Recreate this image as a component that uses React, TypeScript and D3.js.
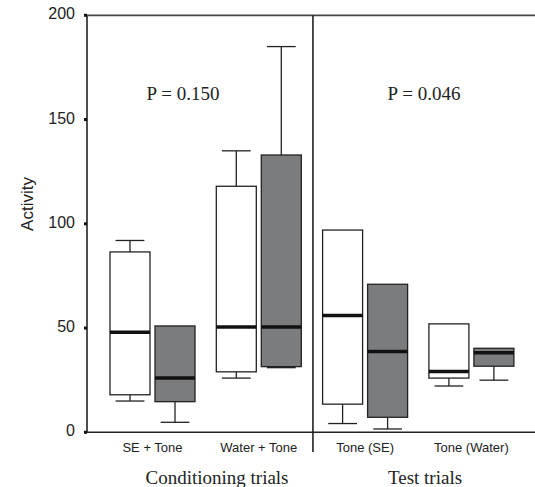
import React from "react";
import * as d3 from "d3";

// groups along the x axis
const groups = ["SE + Tone", "Water + Tone", "Tone (SE)", "Tone (Water)"];
const series = ["open", "filled"];
const yTicks = [0, 50, 100, 150, 200];

// open (white) boxes
const openHigh = [92, 135, 97, 52];
const openQ3 = [86.5, 118, 97, 52];
const openMedian = [48, 50.5, 56, 29.2];
const openQ1 = [18, 29, 13.5, 26];
const openLow = [15, 26, 4.2, 22.2];

// filled (gray) boxes
const filledHigh = [51, 185, 71, 40.3];
const filledQ3 = [51, 133, 71, 40.3];
const filledMedian = [26, 50.5, 38.7, 38.2];
const filledQ1 = [14.7, 31.5, 7.2, 31.7];
const filledLow = [4.8, 31, 1.6, 25];

const W = 535;
const H = 487;
const left = 87;
const right = 535;
const top = 15.3;
const bottom = 432.3;

const serif = "'Liberation Serif', 'Times New Roman', serif";
const sans = "'Liberation Sans', Arial, sans-serif";

const App = () => {
  const y = d3.scaleLinear().domain([0, 200]).range([bottom, top]);
  const x = d3.scaleBand().domain(groups).range([99.35, 524.55]).padding(0);
  const sub = d3.scaleBand().domain(series).range([-42.5, 42.5]).paddingInner(1 / 9).paddingOuter(0);
  const bw = sub.bandwidth();
  const capW = bw * 0.72;

  const boxes = groups.flatMap((g, i) => [
    { g, s: "open", hi: openHigh[i], q3: openQ3[i], med: openMedian[i], q1: openQ1[i], lo: openLow[i], fill: "#ffffff" },
    { g, s: "filled", hi: filledHigh[i], q3: filledQ3[i], med: filledMedian[i], q1: filledQ1[i], lo: filledLow[i], fill: "#7b7c7e" },
  ]);

  const sepX = (x(groups[2]) as number) + 1;

  return (
    <svg width={W} height={H} style={{ position: "absolute", left: 0, top: 0, background: "#fff" }}>
      {boxes.map((b, i) => {
        const cx = (x(b.g) as number) + x.bandwidth() / 2 + (sub(b.s) as number) + bw / 2;
        const x0 = cx - bw / 2;
        return (
          <g key={i} stroke="#222" strokeWidth={1.3}>
            {b.hi > b.q3 && (
              <>
                <line x1={cx} x2={cx} y1={y(b.q3)} y2={y(b.hi)} />
                <line x1={cx - capW / 2} x2={cx + capW / 2} y1={y(b.hi)} y2={y(b.hi)} />
              </>
            )}
            {b.lo < b.q1 && (
              <>
                <line x1={cx} x2={cx} y1={y(b.q1)} y2={y(b.lo)} />
                <line x1={cx - capW / 2} x2={cx + capW / 2} y1={y(b.lo)} y2={y(b.lo)} />
              </>
            )}
            <rect x={x0} y={y(b.q3)} width={bw} height={y(b.q1) - y(b.q3)} fill={b.fill} />
            <line x1={x0} x2={x0 + bw} y1={y(b.med)} y2={y(b.med)} stroke="#111" strokeWidth={3.5} />
          </g>
        );
      })}

      {/* frame */}
      <line x1={left} x2={left} y1={top} y2={bottom} stroke="#222" strokeWidth={1.6} />
      <line x1={left} x2={right} y1={top} y2={top} stroke="#444" strokeWidth={1.8} />
      <line x1={left} x2={right} y1={bottom} y2={bottom} stroke="#222" strokeWidth={1.6} />
      <line x1={sepX} x2={sepX} y1={top} y2={452} stroke="#222" strokeWidth={1.6} />

      {yTicks.map((t) => (
        <g key={t}>
          <rect x={left - 3} y={y(t) - 1.5} width={3} height={3} fill="#111" />
          <text x={75} y={y(t) + 4} textAnchor="end" fontFamily={sans} fontSize={16} fill="#222">
            {t}
          </text>
        </g>
      ))}

      {groups.map((g) => (
        <text
          key={g}
          x={(x(g) as number) + x.bandwidth() / 2}
          y={451.5}
          textAnchor="middle"
          fontFamily={sans}
          fontSize={13}
          fill="#222"
        >
          {g}
        </text>
      ))}

      <text transform="translate(33,204) rotate(-90)" textAnchor="middle" fontFamily={sans} fontSize={17} fill="#222">
        Activity
      </text>

      <text x={183} y={100} textAnchor="middle" fontFamily={serif} fontSize={19} fill="#222">
        P = 0.150
      </text>
      <text x={424} y={100} textAnchor="middle" fontFamily={serif} fontSize={19} fill="#222">
        P = 0.046
      </text>

      <text x={217} y={484} textAnchor="middle" fontFamily={serif} fontSize={19} fill="#222">
        Conditioning trials
      </text>
      <text x={425} y={484} textAnchor="middle" fontFamily={serif} fontSize={19} fill="#222">
        Test trials
      </text>
    </svg>
  );
};

export default App;
